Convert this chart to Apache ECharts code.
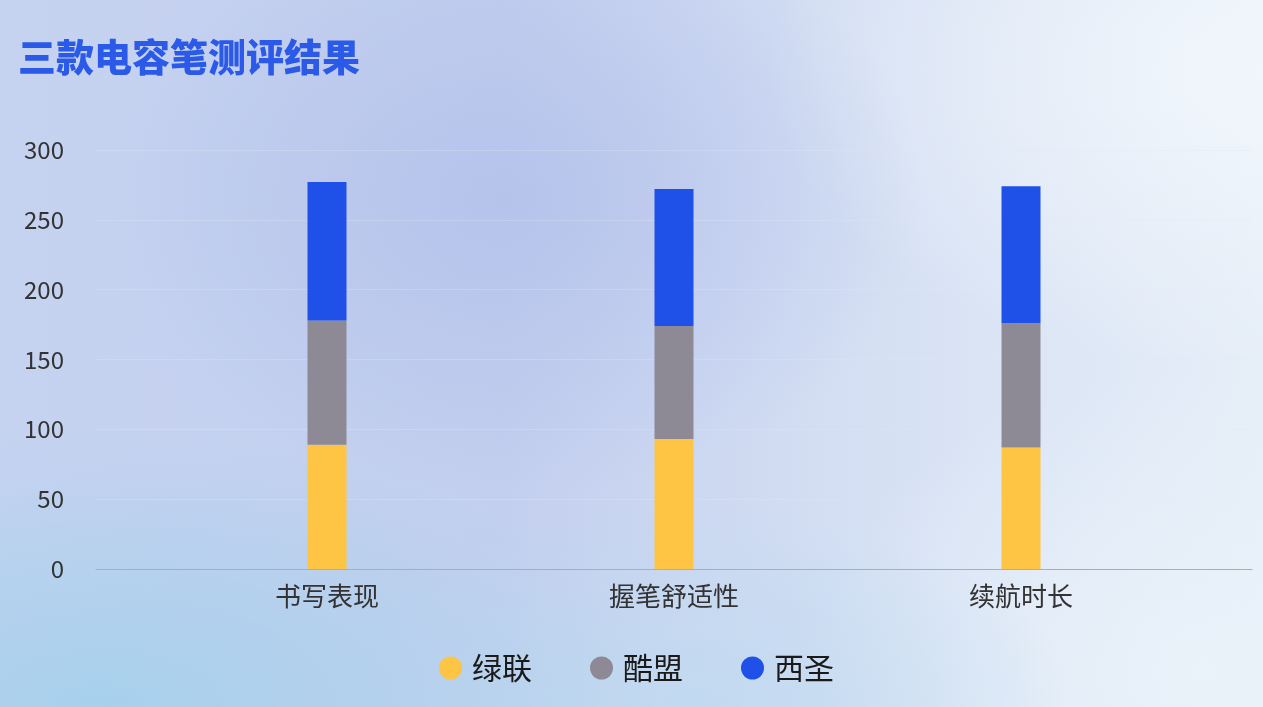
<!DOCTYPE html>
<html>
<head>
<meta charset="utf-8">
<script src="https://cdn.jsdelivr.net/npm/echarts@6/dist/echarts.min.js"></script>
<style>
html,body{margin:0;padding:0;width:1263px;height:707px;overflow:hidden;}
body{
  background:
    radial-gradient(ellipse 420px 300px at 40% 28%, rgba(178,192,235,0.8) 0%, rgba(178,192,235,0) 100%),
    radial-gradient(ellipse 560px 280px at 8% 100%, rgba(165,208,236,0.95) 0%, rgba(165,208,236,0) 100%),
    radial-gradient(ellipse 380px 200px at 55% 100%, rgba(190,218,240,0.8) 0%, rgba(190,218,240,0) 100%),
    radial-gradient(ellipse 500px 300px at 100% 10%, rgba(242,247,252,0.9) 0%, rgba(242,247,252,0) 100%),
    radial-gradient(ellipse 400px 300px at 95% 95%, rgba(234,242,250,0.95) 0%, rgba(234,242,250,0) 100%),
    linear-gradient(to right, #c6d3f0 0%, #c3cfee 40%, #d3def3 65%, #e6eef8 100%);
}
#main{width:1263px;height:707px;}
</style>
</head>
<body>
<div id="main"></div>
<script>
const titleText = '三款电容笔测评结果';
const categories = ['书写表现', '握笔舒适性', '续航时长'];
const seriesNames = ['绿联', '酷盟', '西圣'];
const lvlian = [89, 93, 87];
const kumeng = [89, 81, 89];
const xisheng = [99, 98, 98];
const yTicks = [0, 50, 100, 150, 200, 250, 300];
const colors = ['#FDC543', '#8E8A95', '#1F50E8'];

const chart = echarts.init(document.getElementById('main'));
const seriesData = [lvlian, kumeng, xisheng];
const yMin = yTicks[0], yMax = yTicks[yTicks.length - 1], yStep = yTicks[1] - yTicks[0];

chart.setOption({
  backgroundColor: 'transparent',
  animation: false,
  title: {
    text: titleText,
    left: 18, top: 38, padding: 0,
    textStyle: { color: '#2B5AE8', fontSize: 38, fontWeight: 900, fontFamily: 'Noto Sans CJK SC' }
  },
  legend: {
    data: seriesNames,
    left: 434, top: 648,
    icon: 'circle',
    itemWidth: 23, itemHeight: 23,
    itemGap: 58,
    textStyle: { fontSize: 30, color: '#1a1a1a', fontFamily: 'Noto Sans CJK SC', padding: [0, 0, 0, 5] }
  },
  grid: [
    { left: 96, right: 11, top: 150, bottom: 138 },
    { left: 153.5, right: 68.5, top: 150, bottom: 138 }
  ],
  xAxis: [
    {
      gridIndex: 0, type: 'category', data: categories,
      axisLine: { show: true, lineStyle: { color: '#9fb0c4', width: 1 } },
      axisTick: { show: false }, axisLabel: { show: false }, splitLine: { show: false }
    },
    {
      gridIndex: 1, type: 'category', data: categories,
      axisLine: { show: false }, axisTick: { show: false },
      axisLabel: { margin: 14, fontSize: 26, color: '#333', fontFamily: 'Noto Sans CJK SC' }
    }
  ],
  yAxis: [
    {
      gridIndex: 0, type: 'value', min: yMin, max: yMax, interval: yStep,
      axisLine: { show: false }, axisTick: { show: false },
      axisLabel: { margin: 32, fontSize: 24, color: '#333', fontFamily: 'Noto Sans CJK SC' },
      splitLine: { show: true, lineStyle: { color: 'rgba(225,232,245,0.3)', width: 1 } }
    },
    {
      gridIndex: 1, type: 'value', min: yMin, max: yMax, interval: yStep,
      show: false, splitLine: { show: false }
    }
  ],
  series: seriesNames.map((name, i) => ({
    name: name,
    type: 'bar',
    stack: 'total',
    xAxisIndex: 1, yAxisIndex: 1,
    barWidth: 39,
    itemStyle: { color: colors[i] },
    data: seriesData[i]
  }))
});
</script>
</body>
</html>
